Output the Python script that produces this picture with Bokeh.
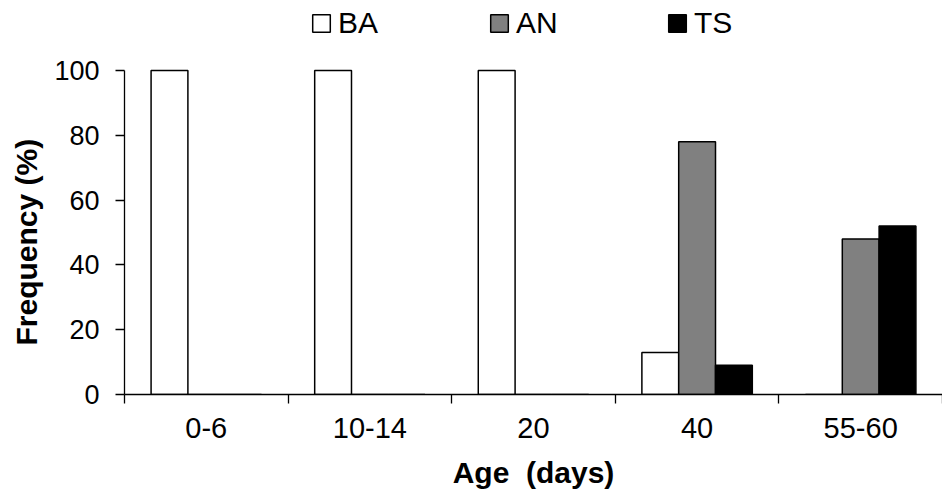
from bokeh.plotting import figure
from bokeh.models import (ColumnDataSource, Range1d, FixedTicker, Legend, LegendItem,
                          LinearAxis, Title)
from bokeh.transform import dodge
from bokeh.embed import file_html
from bokeh.resources import INLINE

ages = ["0-6", "10-14", "20", "40", "55-60"]
ba = [100, 100, 100, 13, 0]
an = [0, 0, 0, 78, 48]
ts = [0, 0, 0, 9, 52]
y_ticks = [0, 20, 40, 60, 80, 100]

centers = [i + 0.5 for i in range(len(ages))]
bounds = [float(i) for i in range(len(ages) + 1)]

src = ColumnDataSource(dict(x=centers, ba=ba, an=an, ts=ts))

FONT = "Liberation Sans"

# frame: top of figure down to the x axis; y = 100 sits 70px below frame top
FRAME_H = 394
Y_TOP = 100 * FRAME_H / (FRAME_H - 70)

p = figure(width=942, height=494, output_backend="svg", toolbar_location=None,
           x_range=Range1d(0, len(ages)), y_range=Range1d(0, Y_TOP),
           min_border_left=123, min_border_right=0, min_border_top=0,
           min_border_bottom=100, x_axis_type=None, y_axis_type=None)
p.outline_line_color = None
p.xgrid.visible = False
p.ygrid.visible = False

w = 0.225
r_ba = p.vbar(x=dodge("x", -w, range=p.x_range), top="ba", width=w, source=src,
              fill_color="white", line_color="black", line_width=1.5)
r_an = p.vbar(x="x", top="an", width=w, source=src,
              fill_color="#808080", line_color="black", line_width=1.5)
r_ts = p.vbar(x=dodge("x", w, range=p.x_range), top="ts", width=w, source=src,
              fill_color="black", line_color="black", line_width=1.5)

xaxis = LinearAxis(ticker=FixedTicker(ticks=centers, minor_ticks=bounds),
                   major_label_overrides={c: a for c, a in zip(centers, ages)})
xaxis.major_tick_out = 0
xaxis.major_tick_in = 0
xaxis.minor_tick_out = 9
xaxis.minor_tick_in = 0
xaxis.axis_line_color = "black"
xaxis.minor_tick_line_color = "black"
xaxis.axis_line_width = 1.3
xaxis.minor_tick_line_width = 1.3
xaxis.major_label_text_font = FONT
xaxis.major_label_text_font_size = "29px"
xaxis.major_label_text_color = "black"
xaxis.major_label_standoff = 14
xaxis.axis_label = "Age\u00a0 (days)"
xaxis.axis_label_text_font = FONT
xaxis.axis_label_text_font_style = "bold"
xaxis.axis_label_text_font_size = "30px"
xaxis.axis_label_text_color = "black"
xaxis.axis_label_standoff = 15
p.add_layout(xaxis, "below")

yaxis = LinearAxis(ticker=FixedTicker(ticks=y_ticks, minor_ticks=[]), bounds=(0, 100))
yaxis.major_tick_out = 9
yaxis.major_tick_in = 0
yaxis.minor_tick_out = 0
yaxis.minor_tick_in = 0
yaxis.axis_line_color = "black"
yaxis.major_tick_line_color = "black"
yaxis.axis_line_width = 1.3
yaxis.major_tick_line_width = 1.3
yaxis.major_label_text_font = FONT
yaxis.major_label_text_font_size = "27px"
yaxis.major_label_text_color = "black"
yaxis.major_label_standoff = 16
p.add_layout(yaxis, "left")

ytitle = Title(text="Frequency (%)", align="left", offset=49, vertical_align="middle",
               text_font=FONT, text_font_size="30px", text_font_style="bold",
               text_color="black", standoff=16)
p.add_layout(ytitle, "left")

legend = Legend(items=[LegendItem(label="BA", renderers=[r_ba]),
                       LegendItem(label="AN", renderers=[r_an]),
                       LegendItem(label="TS", renderers=[r_ts])],
                orientation="horizontal", location=(186, 354),
                glyph_width=22, glyph_height=22, label_standoff=6,
                label_width=110, spacing=40, padding=0, margin=0,
                label_text_font=FONT, label_text_font_size="30px",
                label_text_color="black",
                border_line_alpha=0, background_fill_alpha=0)
p.add_layout(legend, "center")

open("out.html", "w").write(file_html(p, INLINE))
